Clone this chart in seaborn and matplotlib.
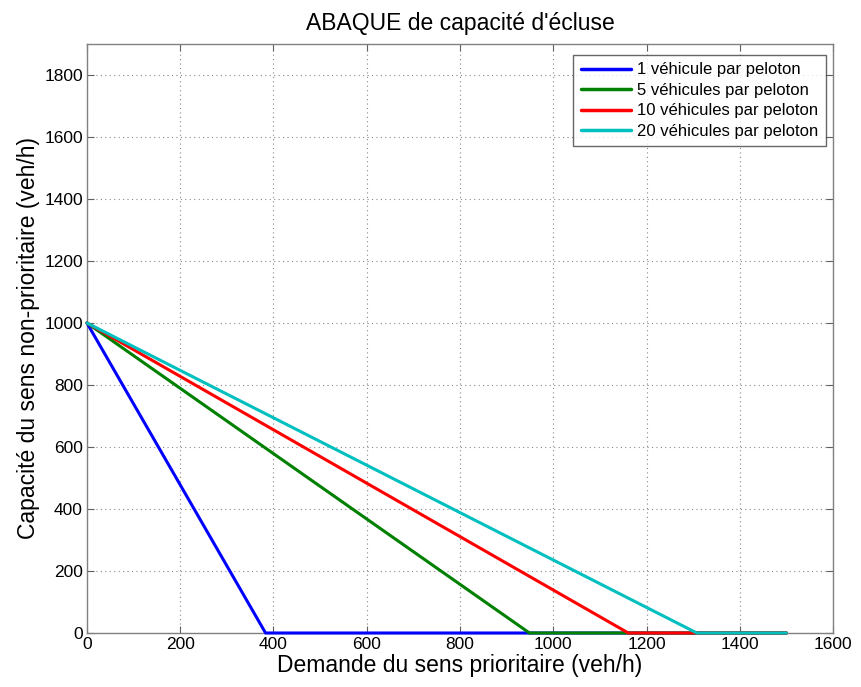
import matplotlib
matplotlib.use("Agg")
import matplotlib.pyplot as plt
import seaborn as sns
import pandas as pd

series = ["1 véhicule par peloton", "5 véhicules par peloton",
          "10 véhicules par peloton", "20 véhicules par peloton"]
intercepts = [383, 949, 1161, 1308]
y_start = 1000
x_end = 1500
colors = ["#0000FF", "#008000", "#FF0000", "#00BFBF"]

rows = []
for name, xi in zip(series, intercepts):
    for k, (x, y) in enumerate([(0, y_start), (xi, 0), (x_end, 0)]):
        rows.append({"serie": name, "order": k, "x": x, "y": y})
df = pd.DataFrame(rows)

sns.set_style("white")
plt.rcParams["font.family"] = ["Liberation Sans", "DejaVu Sans"]
plt.rcParams["text.color"] = "black"
plt.rcParams["axes.labelcolor"] = "black"
plt.rcParams["xtick.color"] = "black"
plt.rcParams["ytick.color"] = "black"

fig = plt.figure(figsize=(8.61, 6.87), dpi=100)
ax = fig.add_axes([0.101, 0.0786, 0.8665, 0.8574])

sns.lineplot(data=df, x="x", y="y", hue="serie", hue_order=series,
             palette=colors, sort=False, estimator=None, units="serie",
             linewidth=2.2, ax=ax, clip_on=False, zorder=3)

ax.set_xlim(0, 1600)
ax.set_ylim(0, 1900)
ax.set_xticks(range(0, 1601, 200))
ax.set_yticks(range(0, 1801, 200))
ax.grid(True, linestyle=(0, (1, 3)), color="#888888", linewidth=0.8)
for s in ax.spines.values():
    s.set_color("#808080")
    s.set_linewidth(1.0)
ax.tick_params(direction="in", length=5, color="#606060", labelcolor="black",
               labelsize=12.5, top=True, right=True, bottom=True, left=True, pad=3)
ax.set_title("ABAQUE de capacité d'écluse", fontsize=16.5, pad=10, color="black")
ax.set_xlabel("Demande du sens prioritaire (veh/h)", fontsize=16.5, labelpad=1, color="black")
ax.set_ylabel("Capacité du sens non-prioritaire (veh/h)", fontsize=16.5, labelpad=3, color="black")

leg = ax.legend(loc="upper right", bbox_to_anchor=(0.9975, 0.99), fontsize=12,
                frameon=True, fancybox=False, edgecolor="#404040",
                handlelength=3.0, borderpad=0.45, labelspacing=0.33,
                handletextpad=0.4, borderaxespad=0.3)
leg.get_frame().set_linewidth(1.0)
for t in leg.get_texts():
    t.set_color("black")
for line in leg.get_lines():
    line.set_linewidth(2.5)

fig.savefig("out.png", dpi=100)
